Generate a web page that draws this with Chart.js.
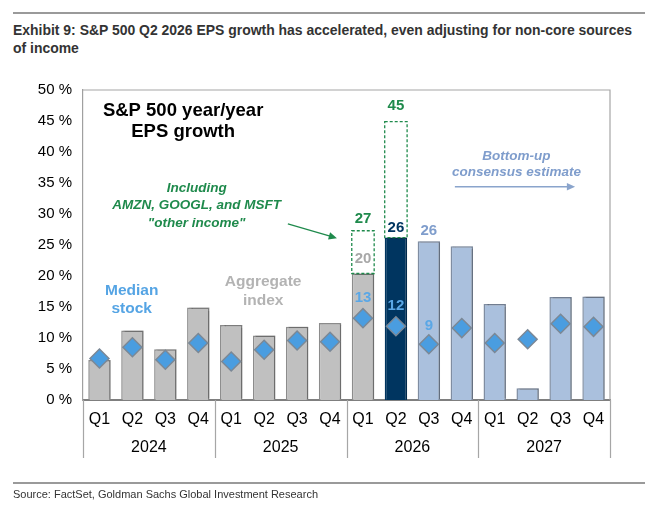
<!DOCTYPE html>
<html>
<head>
<meta charset="utf-8">
<script src="https://cdn.jsdelivr.net/npm/chart.js@4.4.1/dist/chart.umd.min.js"></script>
<style>
  html,body{margin:0;padding:0;background:#fff;}
  #wrap{position:relative;width:660px;height:523px;overflow:hidden;}
  #c{position:absolute;left:0;top:0;}
  .rule{position:absolute;left:13px;width:632px;background:#9a9a9a;}
  #title{position:absolute;left:13px;top:21px;font-family:"Liberation Sans",Arial,sans-serif;font-weight:bold;font-size:14px;line-height:18px;color:#333;white-space:nowrap;transform-origin:0 0;}
  #source{position:absolute;left:13px;top:488px;font-family:"Liberation Sans",Arial,sans-serif;font-size:11px;color:#333;white-space:nowrap;transform-origin:0 0;}
</style>
</head>
<body>
<div id="wrap">
  <div class="rule" style="top:12px;height:2px;"></div>
  <div id="title">Exhibit 9: S&amp;P 500 Q2 2026 EPS growth has accelerated, even adjusting for non-core sources<br>of income</div>
  <canvas id="c" width="660" height="523"></canvas>
  <div class="rule" style="top:482px;height:1.5px;"></div>
  <div id="source">Source: FactSet, Goldman Sachs Global Investment Research</div>
</div>
<script>
// ---- data ----
const quarters = ['Q1','Q2','Q3','Q4','Q1','Q2','Q3','Q4','Q1','Q2','Q3','Q4','Q1','Q2','Q3','Q4'];
const years = ['2024','2025','2026','2027'];
const aggregateIndex = [6.45, 11.2, 8.2, 14.9, 12.1, 10.4, 11.8, 12.4, 20.4, 26.2, 25.6, 24.8, 15.5, 1.9, 16.6, 16.7];
const medianStock = [6.7, 8.5, 6.5, 9.2, 6.2, 8.1, 9.6, 9.4, 13.2, 11.9, 9.0, 11.6, 9.2, 9.8, 12.3, 11.8];
const inclOtherIncome = [null, null, null, null, null, null, null, null, 27.3, 44.9, null, null, null, null, null, null];
const yTicks = [0, 5, 10, 15, 20, 25, 30, 35, 40, 45, 50];
// bar kind: 0 = actual, 1 = current quarter, 2 = consensus estimate
const barKind = [0,0,0,0,0,0,0,0,0,1,2,2,2,2,2,2];

const fillByKind = ['#c0c0c0', '#003560', '#aac0dd'];
const edgeByKind = ['#8c8c8c', '#003560', '#7f8da2'];

const FONT = '"Liberation Sans", Arial, sans-serif';

// condense header/footer text to the narrow width of the original
function fitWidth(id, w) {
  const el = document.getElementById(id);
  const r = el.getBoundingClientRect();
  el.style.transform = 'scaleX(' + (w / r.width) + ')';
}
fitWidth('title', 619);
fitWidth('source', 305);

const floatData = inclOtherIncome.map((v, i) => v === null ? null : [aggregateIndex[i], v]);

const decor = {
  id: 'decor',
  beforeDatasetDraw(chart, args) {
    if (args.index === 0) {
      const ctx = chart.ctx;
      ctx.save();
      ctx.shadowColor = 'rgba(0,0,0,0.22)';
      ctx.shadowOffsetX = 2;
      ctx.shadowOffsetY = -1;
      ctx.shadowBlur = 1;
    }
  },
  afterDatasetDraw(chart, args) {
    if (args.index === 0) chart.ctx.restore();
    if (args.index === 1) {
      const ctx = chart.ctx;
      const meta = chart.getDatasetMeta(1);
      ctx.save();
      ctx.strokeStyle = '#1f8a4c';
      ctx.lineWidth = 1.3;
      ctx.setLineDash([3, 2]);
      meta.data.forEach((el, i) => {
        if (floatData[i] === null) return;
        const p = el.getProps(['x', 'y', 'base', 'width'], true);
        ctx.strokeRect(p.x - p.width / 2, p.y, p.width, p.base - p.y);
      });
      ctx.restore();
    }
  },
  beforeDatasetsDraw(chart) {
    const {ctx, chartArea: a} = chart;
    ctx.save();
    ctx.strokeStyle = '#a6a6a6';
    ctx.lineWidth = 1.2;
    ctx.beginPath();
    ctx.moveTo(a.left, a.top);
    ctx.lineTo(a.right, a.top);
    ctx.lineTo(a.right, a.bottom);
    ctx.stroke();
    ctx.restore();
  },
  afterDraw(chart) {
    const {ctx, chartArea: a, scales: {x, y}} = chart;
    ctx.save();
    ctx.strokeStyle = '#a6a6a6';
    ctx.lineWidth = 1.2;
    for (let g = 0; g <= years.length; g++) {
      const px = Math.round(x.getPixelForValue(g * 4 - 0.5)) + 0.5;
      ctx.beginPath();
      ctx.moveTo(px, a.bottom);
      ctx.lineTo(px, a.bottom + 58);
      ctx.stroke();
    }
    ctx.fillStyle = '#000';
    ctx.font = '16px ' + FONT;
    ctx.textAlign = 'center';
    ctx.textBaseline = 'middle';
    years.forEach((yr, g) => {
      const cx = (x.getPixelForValue(g * 4) + x.getPixelForValue(g * 4 + 3)) / 2;
      ctx.fillText(yr, cx, a.bottom + 48);
    });

    const lab = (txt, i, val, dy, color) => {
      ctx.fillStyle = color;
      ctx.font = 'bold 15px ' + FONT;
      ctx.fillText(txt, x.getPixelForValue(i), y.getPixelForValue(val) + dy);
    };
    lab(String(Math.round(inclOtherIncome[8])), 8, inclOtherIncome[8], -12, '#1f8a4c');
    lab(String(Math.round(inclOtherIncome[9])), 9, inclOtherIncome[9], -16, '#1f8a4c');
    lab(String(Math.round(aggregateIndex[8])), 8, aggregateIndex[8], -15, '#a8a8a8');
    lab(String(Math.round(aggregateIndex[9])), 9, aggregateIndex[9], -10, '#003560');
    lab(String(Math.round(aggregateIndex[10])), 10, aggregateIndex[10], -10, '#7f9dcc');
    lab(String(Math.round(medianStock[8])), 8, medianStock[8], -20, '#5aa7e6');
    lab(String(Math.round(medianStock[9])), 9, medianStock[9], -20, '#5aa7e6');
    lab(String(Math.round(medianStock[10])), 10, medianStock[10], -18, '#5aa7e6');

    const txt = (s, i, val, font, color) => {
      ctx.fillStyle = color;
      ctx.font = font;
      ctx.fillText(s, x.getPixelForValue(i), y.getPixelForValue(val));
    };
    txt('S&P 500 year/year', 2.54, 46.7, 'bold 18.5px ' + FONT, '#000');
    txt('EPS growth', 2.54, 43.2, 'bold 18.5px ' + FONT, '#000');
    const green = '#1f8a4c';
    txt('Including', 2.95, 34.2, 'italic bold 13.5px ' + FONT, green);
    txt('AMZN, GOOGL, and MSFT', 2.95, 31.45, 'italic bold 13.5px ' + FONT, green);
    txt('"other income"', 2.95, 28.5, 'italic bold 13.5px ' + FONT, green);
    txt('Median', 0.98, 17.7, 'bold 15.5px ' + FONT, '#55a4e4');
    txt('stock', 0.98, 14.7, 'bold 15.5px ' + FONT, '#55a4e4');
    txt('Aggregate', 4.97, 19.1, 'bold 15.5px ' + FONT, '#b3b3b3');
    txt('index', 4.97, 16.0, 'bold 15.5px ' + FONT, '#b3b3b3');
    const blue = '#7f9dcc';
    txt('Bottom-up', 12.66, 39.35, 'italic bold 13.5px ' + FONT, blue);
    txt('consensus estimate', 12.66, 36.65, 'italic bold 13.5px ' + FONT, blue);

    const arrow = (i0, v0, i1, v1, color, w, head) => {
      const x0 = x.getPixelForValue(i0), y0 = y.getPixelForValue(v0);
      const x1 = x.getPixelForValue(i1), y1 = y.getPixelForValue(v1);
      const ang = Math.atan2(y1 - y0, x1 - x0);
      ctx.strokeStyle = color;
      ctx.fillStyle = color;
      ctx.lineWidth = w;
      ctx.beginPath();
      ctx.moveTo(x0, y0);
      ctx.lineTo(x1 - Math.cos(ang) * head * 0.8, y1 - Math.sin(ang) * head * 0.8);
      ctx.stroke();
      ctx.beginPath();
      ctx.moveTo(x1, y1);
      ctx.lineTo(x1 - head * Math.cos(ang - 0.42), y1 - head * Math.sin(ang - 0.42));
      ctx.lineTo(x1 - head * Math.cos(ang + 0.42), y1 - head * Math.sin(ang + 0.42));
      ctx.closePath();
      ctx.fill();
    };
    arrow(5.72, 28.4, 7.21, 26.1, green, 1.3, 9);
    arrow(10.79, 34.4, 14.44, 34.4, '#8aa4cc', 1.5, 9);
    ctx.restore();
  }
};

new Chart(document.getElementById('c'), {
  data: {
    labels: quarters,
    datasets: [
      {
        type: 'bar',
        label: 'Aggregate index',
        data: aggregateIndex,
        backgroundColor: barKind.map(k => fillByKind[k]),
        borderColor: barKind.map(k => edgeByKind[k]),
        borderWidth: 1.5,
        borderSkipped: 'bottom',
        barPercentage: 0.68,
        categoryPercentage: 1,
        grouped: false,
        order: 3
      },
      {
        type: 'bar',
        label: 'Including other income',
        data: floatData,
        backgroundColor: 'rgba(255,255,255,0)',
        borderWidth: 0,
        barPercentage: 0.68,
        categoryPercentage: 1,
        grouped: false,
        order: 2
      },
      {
        type: 'line',
        label: 'Median stock',
        data: medianStock,
        showLine: false,
        pointStyle: 'rectRot',
        pointRadius: 9.5,
        pointHoverRadius: 9.5,
        backgroundColor: '#4a9de0',
        borderColor: '#7b8896',
        borderWidth: 1.5,
        order: 1
      }
    ]
  },
  options: {
    responsive: false,
    animation: false,
    devicePixelRatio: 1,
    events: [],
    layout: {padding: {left: 0, right: 50, top: 90, bottom: 63}},
    plugins: {legend: {display: false}, tooltip: {enabled: false}},
    scales: {
      x: {
        type: 'category',
        offset: true,
        grid: {display: false, drawTicks: false},
        border: {display: true, color: '#7f7f7f', width: 2},
        ticks: {color: '#000', font: {family: FONT, size: 16}, padding: 10, maxRotation: 0, autoSkip: false},
        afterFit(s) { s.height = 60; }
      },
      y: {
        min: 0,
        max: 50,
        afterBuildTicks(s) { s.ticks = yTicks.map(v => ({value: v})); },
        grid: {display: false, drawTicks: false},
        border: {display: true, color: '#a0a0a0', width: 1.2},
        ticks: {color: '#000', font: {family: FONT, size: 15}, padding: 11, callback: v => v + ' %'},
        afterFit(s) { s.width = 83; }
      }
    }
  },
  plugins: [decor]
});
</script>
</body>
</html>
